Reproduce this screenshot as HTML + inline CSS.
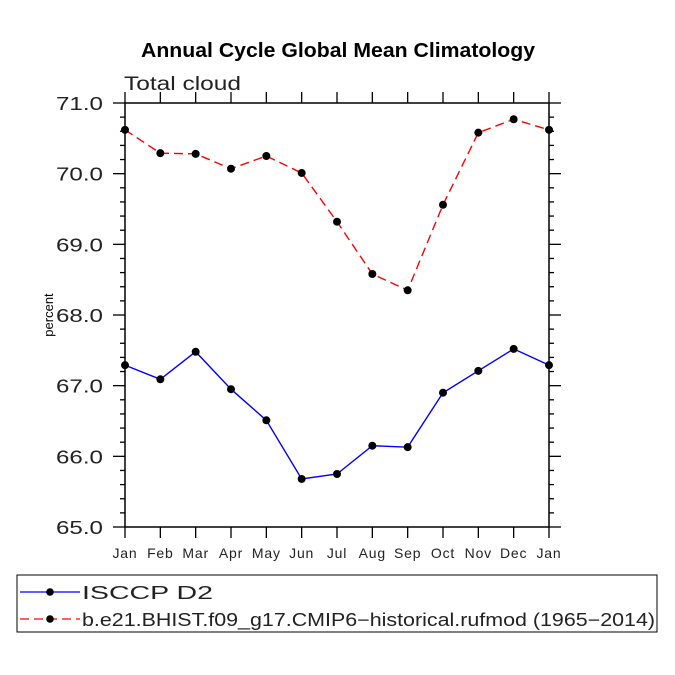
<!DOCTYPE html>
<html><head><meta charset="utf-8"><style>
html,body{margin:0;padding:0;background:#fff}
svg{display:block;font-family:"Liberation Sans",sans-serif}
</style></head><body>
<svg id="chart" width="675" height="675" viewBox="0 0 675 675">
<text x="141" y="57" textLength="394" lengthAdjust="spacingAndGlyphs" font-size="20" font-weight="bold">Annual Cycle Global Mean Climatology</text>
<text x="124" y="90" textLength="117" lengthAdjust="spacingAndGlyphs" font-size="19" fill="#222">Total cloud</text>
<text transform="translate(53,315) rotate(-90)" text-anchor="middle" font-size="13">percent</text>
<g id="axes"></g>
<g id="series"></g>
<g id="legend">
<rect x="17" y="575" width="640" height="57" fill="none" stroke="#000" stroke-width="1"/>
<g>
<line x1="20" y1="592" x2="80" y2="592" stroke="#00f" stroke-width="1.3"/>
<circle cx="50" cy="592" r="3.8" fill="#000"/>
<text x="82" y="599" textLength="131" lengthAdjust="spacingAndGlyphs" font-size="18" fill="#222">ISCCP D2</text></g>
<g>
<line x1="20" y1="619" x2="80" y2="619" stroke="#f00" stroke-width="1.3" stroke-dasharray="9,5"/>
<circle cx="50" cy="619" r="3.8" fill="#000"/>
<text x="82" y="626" textLength="573" lengthAdjust="spacingAndGlyphs" font-size="18" fill="#222">b.e21.BHIST.f09_g17.CMIP6−historical.rufmod (1965−2014)</text></g>
</g>
</svg>
<script>
const months = ["Jan","Feb","Mar","Apr","May","Jun","Jul","Aug","Sep","Oct","Nov","Dec","Jan"];
const isccp = [67.29,67.09,67.48,66.95,66.51,65.68,65.75,66.15,66.13,66.90,67.21,67.52,67.29];
const model = [70.62,70.29,70.28,70.07,70.25,70.01,69.32,68.58,68.35,69.56,70.58,70.77,70.62];
const yTicks = ["65.0","66.0","67.0","68.0","69.0","70.0","71.0"];
const yMin = 65, yMax = 71;
const L=125,R=549,T=103,B=527;
const xs = i => L + i*(R-L)/(months.length-1);
const ys = v => B - (v-yMin)/(yMax-yMin)*(B-T);
const NS="http://www.w3.org/2000/svg";
function mk(tag,attrs,parent){const e=document.createElementNS(NS,tag);for(const k in attrs)e.setAttribute(k,attrs[k]);parent.appendChild(e);return e;}
const ax=document.getElementById('axes');
const frame=mk('rect',{x:L,y:T,width:R-L,height:B-T,fill:'none',stroke:'#000','stroke-width':1.5},ax);


for(let i=0;i<months.length;i++){
  const x=xs(i);
  mk('line',{x1:x,y1:B,x2:x,y2:B+11,stroke:'#000','stroke-width':1.3},ax);
  mk('line',{x1:x,y1:T,x2:x,y2:T-11,stroke:'#000','stroke-width':1.3},ax);
  const t=mk('text',{x:x,y:B+31,'text-anchor':'middle','font-size':14,fill:'#222','letter-spacing':'0.8'},ax);
  t.textContent=months[i];
  
  
}
for(let v=yMin; v<=yMax+1e-6; v+=0.2){
  const y=ys(v);
  const major=Math.abs(v-Math.round(v))<1e-6;
  const len=major?12:5;
  mk('line',{x1:L,y1:y,x2:L-len,y2:y,stroke:'#000','stroke-width':1.3},ax);
  mk('line',{x1:R,y1:y,x2:R+len,y2:y,stroke:'#000','stroke-width':1.3},ax);
}
yTicks.forEach(s=>{
  const t=mk('text',{x:56,y:ys(parseFloat(s))+7,textLength:47,lengthAdjust:'spacingAndGlyphs','font-size':18,fill:'#222'},ax);
  t.textContent=s;
  
  
});
const sg=document.getElementById('series');
function drawSeries(vals,color,dash,name){
  const g=mk('g',{},sg);
  
  
  const pts=vals.map((v,i)=>xs(i)+','+ys(v)).join(' ');
  const a={points:pts,fill:'none',stroke:color,'stroke-width':1.4};
  if(dash)a['stroke-dasharray']=dash;
  mk('polyline',a,g);
  vals.forEach((v,i)=>{
    const c=mk('circle',{cx:xs(i),cy:ys(v),r:4,fill:'#000'},g);
    
    
  });
}
drawSeries(isccp,'#00f',null,'series-isccp');
drawSeries(model,'#f00','9,5','series-model');
</script>
</body></html>
